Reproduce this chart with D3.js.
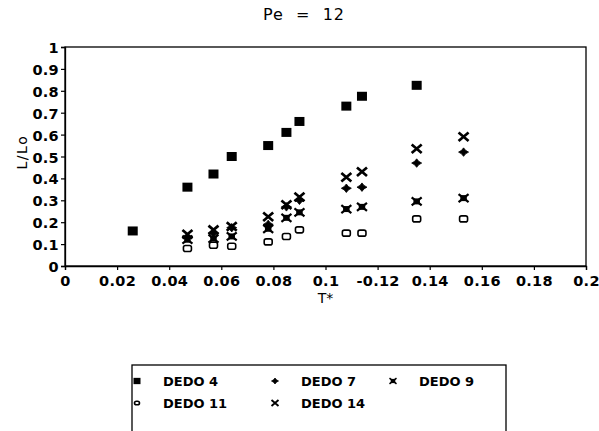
<!DOCTYPE html>
<html>
<head>
<meta charset="utf-8">
<script src="https://cdn.jsdelivr.net/npm/d3@7"></script>
<style>
  body { margin: 0; background: #fff; }
  text { font-family: "DejaVu Sans", sans-serif; fill: #000; }
</style>
</head>
<body>
<script>
// T* values shared by the DEDO 7/9/11/14 series
var tStar = [0.047, 0.057, 0.064, 0.078, 0.085, 0.090, 0.108, 0.114, 0.135, 0.153];

var dedo4X = [0.026, 0.047, 0.057, 0.064, 0.078, 0.085, 0.090, 0.108, 0.114, 0.135];
var dedo4 = [0.16, 0.36, 0.42, 0.50, 0.55, 0.61, 0.66, 0.73, 0.775, 0.825];
var dedo7 = [0.13, 0.15, 0.175, 0.19, 0.27, 0.30, 0.355, 0.36, 0.47, 0.52];
var dedo9 = [0.12, 0.125, 0.135, 0.17, 0.22, 0.245, 0.26, 0.27, 0.295, 0.31];
var dedo11 = [0.08, 0.095, 0.09, 0.11, 0.135, 0.165, 0.15, 0.15, 0.215, 0.215];
var dedo14 = [0.145, 0.165, 0.18, 0.225, 0.28, 0.315, 0.405, 0.43, 0.535, 0.59];

var xTicks = [0, 0.02, 0.04, 0.06, 0.08, 0.1, 0.12, 0.14, 0.16, 0.18, 0.2];
var xTickLabels = ["0", "0.02", "0.04", "0.06", "0.08", "0.1", "-0.12", "0.14", "0.16", "0.18", "0.2"];
var yTicks = [0, 0.1, 0.2, 0.3, 0.4, 0.5, 0.6, 0.7, 0.8, 0.9, 1];
var yTickLabels = ["0", "0.1", "0.2", "0.3", "0.4", "0.5", "0.6", "0.7", "0.8", "0.9", "1"];

var seriesNames = ["DEDO 4", "DEDO 7", "DEDO 9", "DEDO 11", "DEDO 14"];

(function drawChart (d3) {
    "use strict";
    var width = 599,
        height = 431,
        margin = {left: 65, right: 13, top: 47, bottom: 165},
        font = "\"DejaVu Sans\", sans-serif",
        svg, plot, x, y, series;

    svg = d3.select("body").append("svg")
        .attr("width", width)
        .attr("height", height);

    x = d3.scaleLinear().domain([0, 0.2]).range([margin.left, width - margin.right]);
    y = d3.scaleLinear().domain([0, 1]).range([height - margin.bottom, margin.top]);

    /**
     * Draws one marker glyph centred on 0,0 into group g
     */
    function marker (g, kind, s) {
        var h = s / 2;
        switch (kind) {
            case "square":
                g.append("rect").attr("x", -h).attr("y", -h * 0.9).attr("width", s).attr("height", s * 0.9)
                    .attr("fill", "#000");
                break;
            case "plus":
                g.append("path")
                    .attr("d", "M0," + (-h * 0.85) + "L" + (h * 0.4) + "," + (-h * 0.35) + "L" + h + ",0L" +
                        (h * 0.4) + "," + (h * 0.35) + "L0," + (h * 0.85) + "L" + (-h * 0.4) + "," + (h * 0.35) +
                        "L" + (-h) + ",0L" + (-h * 0.4) + "," + (-h * 0.35) + "Z")
                    .attr("fill", "#000").attr("stroke", "#000").attr("stroke-width", 0.8);
                break;
            case "star":
                g.append("rect").attr("x", -h * 0.65).attr("y", -h * 0.6).attr("width", s * 0.65).attr("height", s * 0.6)
                    .attr("fill", "#000");
                g.append("path")
                    .attr("d", "M" + (-h) + "," + (-h * 0.8) + "L" + h + "," + (h * 0.8) +
                        "M" + h + "," + (-h * 0.8) + "L" + (-h) + "," + (h * 0.8))
                    .attr("stroke", "#000").attr("stroke-width", s * 0.22);
                break;
            case "open":
                g.append("rect").attr("x", -h + 1).attr("y", -h * 0.8 + 1).attr("width", s - 2).attr("height", s * 0.8 - 2)
                    .attr("rx", 2).attr("fill", "#fff").attr("stroke", "#000").attr("stroke-width", 1.6);
                break;
            case "cross":
                g.append("path")
                    .attr("d", "M" + (-h) + "," + (-h * 0.85) + "L" + h + "," + (h * 0.85) +
                        "M" + h + "," + (-h * 0.85) + "L" + (-h) + "," + (h * 0.85))
                    .attr("stroke", "#000").attr("stroke-width", s * 0.27);
                break;
        }
    }

    // frame
    svg.append("rect")
        .attr("x", x(0)).attr("y", y(1))
        .attr("width", x(0.2) - x(0)).attr("height", y(0) - y(1))
        .attr("fill", "none").attr("stroke", "#000").attr("stroke-width", 1.3);

    // axes
    var xAxis = svg.append("g")
        .attr("transform", "translate(0," + y(0) + ")")
        .call(d3.axisBottom(x).tickValues(xTicks).tickSize(4).tickPadding(4)
            .tickFormat(function (d, i) { return xTickLabels[i]; }));
    var yAxis = svg.append("g")
        .attr("transform", "translate(" + x(0) + ",0)")
        .call(d3.axisLeft(y).tickValues(yTicks).tickSize(4).tickPadding(2)
            .tickFormat(function (d, i) { return yTickLabels[i]; }));
    [xAxis, yAxis].forEach(function (a) {
        a.select(".domain").attr("stroke", "#000").attr("stroke-width", 1.3);
        a.selectAll(".tick line").attr("stroke", "#000").attr("stroke-width", 1.2);
        a.selectAll(".tick text")
            .attr("fill", "#000")
            .style("font-size", "14.5px")
            .style("font-weight", "bold")
            .style("letter-spacing", "0.3px")
            .style("font-family", font);
    });
    xAxis.selectAll(".tick text").attr("dy", "0.85em");
    yAxis.selectAll(".tick text").attr("dy", "0.38em");

    // titles
    svg.append("text").attr("x", 304).attr("y", 20).attr("text-anchor", "middle")
        .style("font-size", "16px").style("letter-spacing", "1px").style("white-space", "pre")
        .text("Pe  =  12");
    svg.append("text").attr("x", x(0.1)).attr("y", 303).attr("text-anchor", "middle")
        .style("font-size", "14px").text("T*");
    svg.append("text")
        .attr("transform", "translate(27," + y(0.52) + ")rotate(-90)")
        .attr("text-anchor", "middle")
        .style("font-size", "14px").style("letter-spacing", "1.5px").text("L/Lo");

    // data series
    series = [
        {name: seriesNames[0], kind: "square", xs: dedo4X, ys: dedo4},
        {name: seriesNames[1], kind: "plus", xs: tStar, ys: dedo7},
        {name: seriesNames[2], kind: "star", xs: tStar, ys: dedo9},
        {name: seriesNames[3], kind: "open", xs: tStar, ys: dedo11},
        {name: seriesNames[4], kind: "cross", xs: tStar, ys: dedo14}
    ];

    plot = svg.append("g").attr("class", "points");
    series.forEach(function (s) {
        s.ys.forEach(function (v, i) {
            var g = plot.append("g")
                .attr("transform", "translate(" + x(s.xs[i]) + "," + y(v) + ")");
            marker(g, s.kind, 10);
        });
    });

    // legend
    var legend = svg.append("g").attr("class", "legend");
    legend.append("rect")
        .attr("x", 132).attr("y", 365).attr("width", 374).attr("height", 80)
        .attr("fill", "none").attr("stroke", "#000").attr("stroke-width", 1.3);
    var slots = [[137, 381], [275, 381], [393, 381], [137, 403], [275, 403]];
    series.forEach(function (s, i) {
        var item = legend.append("g")
            .attr("transform", "translate(" + slots[i][0] + "," + slots[i][1] + ")");
        marker(item.append("g"), s.kind, 7);
        item.append("text").attr("x", 26).attr("y", 5)
            .style("font-size", "13px").style("font-weight", "bold")
            .text(s.name);
    });
})(window.d3);
</script>
</body>
</html>
